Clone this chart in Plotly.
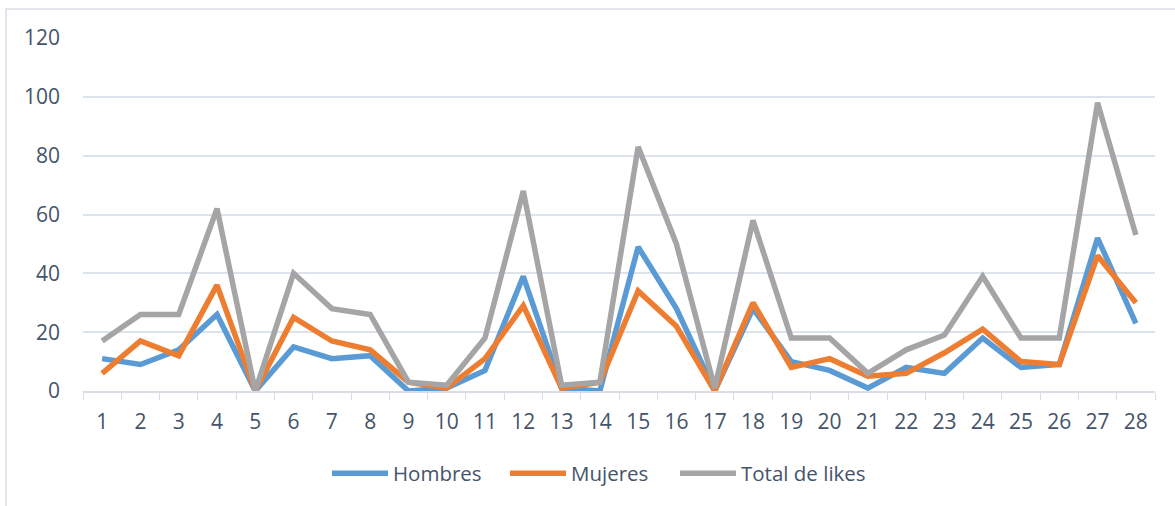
import plotly.graph_objects as go

categories = [str(i) for i in range(1, 29)]
hombres = [11, 9, 14, 26, 0, 15, 11, 12, 0, 1, 7, 39, 1, 0, 49, 28, 0, 28, 10, 7, 1, 8, 6, 18, 8, 9, 52, 23]
mujeres = [6, 17, 12, 36, 0, 25, 17, 14, 3, 1, 11, 29, 1, 3, 34, 22, 0, 30, 8, 11, 5, 6, 13, 21, 10, 9, 46, 30]
total = [17, 26, 26, 62, 0, 40, 28, 26, 3, 2, 18, 68, 2, 3, 83, 50, 1, 58, 18, 18, 6, 14, 19, 39, 18, 18, 98, 53]
y_ticks = [0, 20, 40, 60, 80, 100, 120]

series = [("Hombres", hombres, "#5B9BD5"), ("Mujeres", mujeres, "#ED7D31"), ("Total de likes", total, "#A5A5A5")]
legend_ids = ["legend", "legend2", "legend3"]

txt = "#44546A"
font = "Open Sans"
W, H = 1175, 506
L, R, T, B = 83, 20, 38, 114.5
pw, ph = W - L - R, H - T - B

fig = go.Figure()
for (name, vals, col), lid in zip(series, legend_ids):
    fig.add_trace(go.Scatter(x=categories, y=vals, name=name, mode="lines", legend=lid,
                             line=dict(color=col, width=5.5, shape="linear")))

legend_px = [333, 511, 681]
leg_y = (391.5 - 474) / ph
legend_cfg = {}
for lid, px in zip(legend_ids, legend_px):
    legend_cfg[lid] = dict(orientation="h", x=(px - 6 - L) / pw, xanchor="left", y=leg_y, yanchor="middle",
                           font=dict(size=20.5, color=txt), itemwidth=56, bgcolor="rgba(0,0,0,0)")

fig.update_layout(
    width=W, height=H,
    margin=dict(l=L, r=R, t=T, b=B, autoexpand=False),
    paper_bgcolor="white", plot_bgcolor="white",
    font=dict(family=font, color=txt, size=21),
    showlegend=True,
    xaxis=dict(type="category", tickson="boundaries", ticks="outside", ticklen=7, tickcolor="#D9DEE6",
               range=[-0.5, 27.5], automargin=False,
               showline=True, linecolor="#D9DEE6", linewidth=1.5, showgrid=False,
               tickfont=dict(size=21, color=txt), ticklabelstandoff=11),
    yaxis=dict(range=[0, 120], tickvals=y_ticks, showgrid=True, gridcolor="#DDE3EB", gridwidth=1.5,
               automargin=False,
               zeroline=False, showline=False, ticks="", tickfont=dict(size=21, color=txt),
               ticklabelstandoff=22),
    shapes=[dict(type="rect", xref="paper", yref="paper",
                 x0=(6 - L) / pw, x1=(1185 - L) / pw, y0=(391.5 - 520) / ph, y1=(391.5 - 9) / ph,
                 line=dict(color="#D9DEE6", width=1.5), fillcolor="rgba(0,0,0,0)", layer="below")],
    **legend_cfg,
)

fig.write_html("out.html", config={"displayModeBar": False},
               post_script="document.body.style.margin='0';document.body.style.overflow='hidden';")
